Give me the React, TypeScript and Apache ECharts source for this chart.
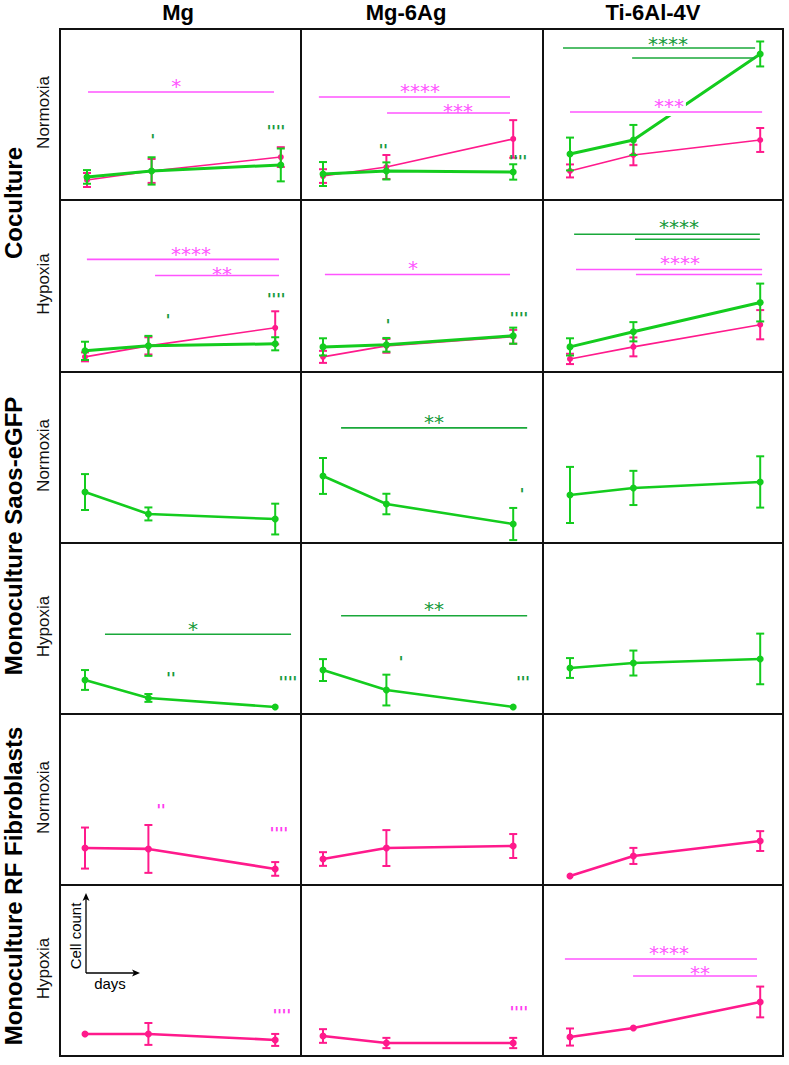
import { useEffect, useRef } from 'react';
import * as echarts from 'echarts';

// ---------- categories / labels ----------
const days = [1, 3, 7];
const columnTitles = ['Mg', 'Mg-6Ag', 'Ti-6Al-4V'];
const rowGroups = ['Coculture', 'Monoculture Saos-eGFP', 'Monoculture RF Fibroblasts'];
const conditions = ['Normoxia', 'Hypoxia'];

// ---------- values (relative cell count, arbitrary units) ----------
// Coculture normoxia
const cnMgFib = [11.7, 17.0, 25.1];
const cnMgFibErr = [4.1, 7.0, 5.8];
const cnMgSaos = [13.5, 17.0, 20.5];
const cnMgSaosErr = [4.0, 8.0, 9.6];
const cnAgFib = [14.0, 19.3, 35.7];
const cnAgFibErr = [4.0, 7.0, 11.0];
const cnAgSaos = [15.2, 17.0, 16.4];
const cnAgSaosErr = [7.0, 5.0, 4.5];
const cnTiFib = [17.0, 26.3, 35.1];
const cnTiFibErr = [3.8, 6.0, 7.0];
const cnTiSaos = [26.9, 35.1, 85.4];
const cnTiSaosErr = [9.6, 8.8, 7.3];
// Coculture hypoxia
const chMgFib = [8.8, 15.2, 25.7];
const chMgFibErr = [2.6, 5.0, 9.6];
const chMgSaos = [12.3, 15.2, 16.4];
const chMgSaosErr = [5.3, 5.8, 3.8];
const chAgFib = [8.8, 15.2, 20.5];
const chAgFibErr = [3.5, 4.0, 4.0];
const chAgSaos = [14.6, 15.8, 21.1];
const chAgSaosErr = [5.0, 4.0, 4.7];
const chTiFib = [7.6, 14.6, 27.5];
const chTiFibErr = [3.0, 5.5, 8.5];
const chTiSaos = [14.6, 23.4, 40.4];
const chTiSaosErr = [5.0, 5.6, 11.0];
// Monoculture Saos-eGFP
const snMg = [29.8, 17.0, 14.0];
const snMgErr = [10.5, 3.8, 9.0];
const snAg = [39.2, 22.8, 11.1];
const snAgErr = [10.5, 6.0, 9.4];
const snTi = [28.1, 32.2, 35.7];
const snTiErr = [16.4, 10.0, 15.0];
const shMg = [19.9, 9.4, 4.1];
const shMgErr = [5.8, 2.3, 0];
const shAg = [25.7, 14.0, 4.1];
const shAgErr = [6.4, 9.0, 0];
const shTi = [26.9, 29.8, 32.2];
const shTiErr = [5.8, 7.3, 14.8];
// Monoculture RF fibroblasts
const fnMg = [21.6, 21.1, 9.4];
const fnMgErr = [12.0, 14.0, 4.0];
const fnAg = [15.2, 21.6, 22.8];
const fnAgErr = [4.0, 10.5, 7.0];
const fnTi = [5.3, 17.0, 25.7];
const fnTiErr = [0, 4.7, 5.8];
const fhMg = [12.9, 12.9, 9.4];
const fhMgErr = [0, 6.4, 3.5];
const fhAg = [11.7, 7.6, 7.6];
const fhAgErr = [4.0, 3.0, 3.0];
const fhTi = [11.1, 16.4, 31.6];
const fhTiErr = [5.0, 0, 9.0];

// ---------- significance brackets: [fromDay, toDay, level, labelDay, labelLevel, label] ----------
type Sig = [number, number, number, number, number, string];
const sigCnMgFib: Sig[] = [[1.03, 6.79, 63.2, 3.76, 69.6, '*']];
const sigCnAgFib: Sig[] = [[0.87, 6.9, 60.2, 4.06, 66.7, '****'], [3.02, 6.9, 50.9, 5.26, 55.0, '***']];
const sigCnTiSaos: Sig[] = [[0.78, 6.84, 88.9, 4.09, 94.2, '****'], [2.96, 6.84, 83.0, 0, 0, '']];
const sigCnTiFib: Sig[] = [[1.0, 7.06, 51.5, 4.12, 57.9, '***']];
const sigChMgFib: Sig[] = [[1.06, 7.12, 65.5, 4.34, 71.3, '****'], [3.21, 7.12, 56.1, 5.32, 59.6, '**']];
const sigChAgFib: Sig[] = [[1.06, 6.9, 56.7, 3.84, 63.2, '*']];
const sigChTiSaos: Sig[] = [[1.13, 6.99, 80.1, 4.44, 87.1, '****'], [3.05, 6.99, 77.2, 0, 0, '']];
const sigChTiFib: Sig[] = [[1.19, 7.06, 59.6, 4.47, 66.1, '****'], [3.08, 7.06, 56.7, 0, 0, '']];
const sigSnAg: Sig[] = [[1.57, 7.44, 67.3, 4.5, 73.9, '**']];
const sigShMg: Sig[] = [[1.63, 7.5, 46.6, 4.41, 52.6, '*']];
const sigShAg: Sig[] = [[1.57, 7.44, 57.5, 4.5, 64.2, '**']];
const sigFhTi: Sig[] = [[0.84, 6.9, 56.7, 4.12, 63.2, '****'], [2.99, 6.9, 46.8, 5.1, 51.5, '**']];

// ---------- prime marks: [day, level, label] ----------
type Prime = [number, number, string];
const primeCnMg: Prime[] = [[3.04, 36.8, "'"], [6.85, 42.1, "''''"]];
const primeCnAg: Prime[] = [[2.9, 31.0, "''"], [7.15, 24.6, "''''"]];
const primeChMg: Prime[] = [[3.62, 32.2, "'"], [7.03, 44.4, "''''"]];
const primeChAg: Prime[] = [[3.05, 29.2, "'"], [7.18, 33.3, "''''"]];
const primeSnAg: Prime[] = [[7.28, 30.4, "'"]];
const primeShMg: Prime[] = [[3.71, 22.8, "''"], [7.4, 20.5, "''''"]];
const primeShAg: Prime[] = [[3.46, 32.2, "'"], [7.31, 20.5, "'''"]];
const primeFnMg: Prime[] = [[3.4, 45.6, "''"], [7.12, 32.2, "''''"]];
const primeFhMg: Prime[] = [[7.21, 25.7, "''''"]];
const primeFhAg: Prime[] = [[7.18, 27.5, "''''"]];

// ---------- styling / layout ----------
const PINK = '#ff1a8c';
const GREEN = '#14cc1e';
const SIG_PINK = '#ff55ff';
const SIG_GREEN = '#1aa83a';
const PRIME_GREEN = '#16993a';
const PRIME_PINK = '#ff3cf0';
const FONT = '"Liberation Sans", Arial, sans-serif';

const colEdges = [60, 301, 543, 783];
const rowEdges = [29, 200, 372, 543, 714, 885, 1056];
const day1Px = [25, 22, 27];
const pxPerDay = 31.7;

type Curve = { kind: 'saos' | 'fib'; mean: number[]; err: number[] };
type SigGroup = { kind: 'saos' | 'fib'; bars: Sig[]; mask?: boolean };
type Panel = { curves: Curve[]; sigs: SigGroup[]; primes: Prime[]; primeKind: 'saos' | 'fib' };

const panels: Panel[] = [
  { curves: [{ kind: 'fib', mean: cnMgFib, err: cnMgFibErr }, { kind: 'saos', mean: cnMgSaos, err: cnMgSaosErr }], sigs: [{ kind: 'fib', bars: sigCnMgFib }], primes: primeCnMg, primeKind: 'saos' },
  { curves: [{ kind: 'fib', mean: cnAgFib, err: cnAgFibErr }, { kind: 'saos', mean: cnAgSaos, err: cnAgSaosErr }], sigs: [{ kind: 'fib', bars: sigCnAgFib }], primes: primeCnAg, primeKind: 'saos' },
  { curves: [{ kind: 'fib', mean: cnTiFib, err: cnTiFibErr }, { kind: 'saos', mean: cnTiSaos, err: cnTiSaosErr }], sigs: [{ kind: 'saos', bars: sigCnTiSaos }, { kind: 'fib', bars: sigCnTiFib, mask: true }], primes: [], primeKind: 'saos' },
  { curves: [{ kind: 'fib', mean: chMgFib, err: chMgFibErr }, { kind: 'saos', mean: chMgSaos, err: chMgSaosErr }], sigs: [{ kind: 'fib', bars: sigChMgFib }], primes: primeChMg, primeKind: 'saos' },
  { curves: [{ kind: 'fib', mean: chAgFib, err: chAgFibErr }, { kind: 'saos', mean: chAgSaos, err: chAgSaosErr }], sigs: [{ kind: 'fib', bars: sigChAgFib }], primes: primeChAg, primeKind: 'saos' },
  { curves: [{ kind: 'fib', mean: chTiFib, err: chTiFibErr }, { kind: 'saos', mean: chTiSaos, err: chTiSaosErr }], sigs: [{ kind: 'saos', bars: sigChTiSaos }, { kind: 'fib', bars: sigChTiFib }], primes: [], primeKind: 'saos' },
  { curves: [{ kind: 'saos', mean: snMg, err: snMgErr }], sigs: [], primes: [], primeKind: 'saos' },
  { curves: [{ kind: 'saos', mean: snAg, err: snAgErr }], sigs: [{ kind: 'saos', bars: sigSnAg }], primes: primeSnAg, primeKind: 'saos' },
  { curves: [{ kind: 'saos', mean: snTi, err: snTiErr }], sigs: [], primes: [], primeKind: 'saos' },
  { curves: [{ kind: 'saos', mean: shMg, err: shMgErr }], sigs: [{ kind: 'saos', bars: sigShMg }], primes: primeShMg, primeKind: 'saos' },
  { curves: [{ kind: 'saos', mean: shAg, err: shAgErr }], sigs: [{ kind: 'saos', bars: sigShAg }], primes: primeShAg, primeKind: 'saos' },
  { curves: [{ kind: 'saos', mean: shTi, err: shTiErr }], sigs: [], primes: [], primeKind: 'saos' },
  { curves: [{ kind: 'fib', mean: fnMg, err: fnMgErr }], sigs: [], primes: primeFnMg, primeKind: 'fib' },
  { curves: [{ kind: 'fib', mean: fnAg, err: fnAgErr }], sigs: [], primes: [], primeKind: 'fib' },
  { curves: [{ kind: 'fib', mean: fnTi, err: fnTiErr }], sigs: [], primes: [], primeKind: 'fib' },
  { curves: [{ kind: 'fib', mean: fhMg, err: fhMgErr }], sigs: [], primes: primeFhMg, primeKind: 'fib' },
  { curves: [{ kind: 'fib', mean: fhAg, err: fhAgErr }], sigs: [], primes: primeFhAg, primeKind: 'fib' },
  { curves: [{ kind: 'fib', mean: fhTi, err: fhTiErr }], sigs: [{ kind: 'fib', bars: sigFhTi }], primes: [], primeKind: 'fib' },
];

function buildOption() {
  const grid: any[] = [];
  const xAxis: any[] = [];
  const yAxis: any[] = [];
  const series: any[] = [];

  panels.forEach((panel, p) => {
    const row = Math.floor(p / 3);
    const col = p % 3;
    const left = colEdges[col];
    const width = colEdges[col + 1] - colEdges[col];
    const top = rowEdges[row];
    const height = rowEdges[row + 1] - rowEdges[row];
    grid.push({ left, top, width, height, show: true, borderColor: '#111', borderWidth: 2, backgroundColor: 'transparent' });
    const x0 = p === 0 ? 27 : day1Px[col];
    const s = p === 0 ? 32.3 : pxPerDay;
    const xmin = 1 - x0 / s;
    xAxis.push({ type: 'value', gridIndex: p, min: xmin, max: xmin + width / s, show: false });
    yAxis.push({ type: 'value', gridIndex: p, min: 0, max: 100, show: false });

    const coculture = row < 2;
    panel.curves.forEach((c) => {
      const color = c.kind === 'saos' ? GREEN : PINK;
      const lw = coculture ? (c.kind === 'saos' ? 3 : 1.6) : 2.6;
      const errData = days.map((d, i) => [d, c.mean[i] - c.err[i], c.mean[i] + c.err[i]]).filter((_, i) => c.err[i] > 0);
      series.push({
        type: 'custom',
        xAxisIndex: p,
        yAxisIndex: p,
        silent: true,
        z: c.kind === 'saos' ? 4 : 2,
        encode: { x: 0, y: [1, 2] },
        data: errData,
        renderItem: (params: any, api: any) => {
          const x = api.value(0);
          const a = api.coord([x, api.value(2)]);
          const b = api.coord([x, api.value(1)]);
          const cw = 4;
          const st = { stroke: color, lineWidth: 2 };
          return {
            type: 'group',
            children: [
              { type: 'line', shape: { x1: a[0], y1: a[1], x2: b[0], y2: b[1] }, style: st },
              { type: 'line', shape: { x1: a[0] - cw, y1: a[1], x2: a[0] + cw, y2: a[1] }, style: st },
              { type: 'line', shape: { x1: b[0] - cw, y1: b[1], x2: b[0] + cw, y2: b[1] }, style: st },
            ],
          };
        },
      });
      series.push({
        type: 'line',
        xAxisIndex: p,
        yAxisIndex: p,
        silent: true,
        z: c.kind === 'saos' ? 5 : 3,
        data: days.map((d, i) => [d, c.mean[i]]),
        symbol: 'circle',
        symbolSize: coculture && c.kind === 'fib' ? 6 : 7,
        showSymbol: true,
        lineStyle: { color, width: lw },
        itemStyle: { color },
      });
    });

    panel.sigs.forEach((g) => {
      const lineColor = g.kind === 'saos' ? SIG_GREEN : SIG_PINK;
      const textColor = g.kind === 'saos' ? PRIME_GREEN : SIG_PINK;
      series.push({
        type: 'custom',
        xAxisIndex: p,
        yAxisIndex: p,
        silent: true,
        z: 8,
        encode: { x: [0, 1], y: 2 },
        data: g.bars.map((b) => [b[0], b[1], b[2], b[3], b[4]]),
        renderItem: (params: any, api: any) => {
          const bar = g.bars[params.dataIndex];
          const a = api.coord([bar[0], bar[2]]);
          const b = api.coord([bar[1], bar[2]]);
          const children: any[] = [];
          if (bar[5]) {
            const t = api.coord([bar[3], bar[4]]);
            children.push({
              type: 'text',
              x: t[0],
              y: t[1] + 5,
              style: {
                text: bar[5],
                fill: textColor,
                font: '20px "DejaVu Sans", sans-serif',
                align: 'center',
                verticalAlign: 'middle',
                backgroundColor: g.mask ? '#fff' : undefined,
                padding: g.mask ? [0, 2, 0, 2] : 0,
              },
            });
          }
          children.push({ type: 'line', shape: { x1: a[0], y1: a[1], x2: b[0], y2: b[1] }, style: { stroke: lineColor, lineWidth: 1.6 } });
          return { type: 'group', children };
        },
      });
    });

    if (panel.primes.length) {
      const pc = panel.primeKind === 'saos' ? PRIME_GREEN : PRIME_PINK;
      series.push({
        type: 'custom',
        xAxisIndex: p,
        yAxisIndex: p,
        silent: true,
        z: 9,
        encode: { x: 0, y: 1 },
        data: panel.primes.map((q) => [q[0], q[1]]),
        renderItem: (params: any, api: any) => {
          const q = panel.primes[params.dataIndex];
          const t = api.coord([q[0], q[1]]);
          return {
            type: 'text',
            x: t[0],
            y: t[1] + 4,
            style: {
              text: q[2],
              fill: pc,
              font: 'bold 15px "DejaVu Sans", sans-serif',
              align: 'center',
              verticalAlign: 'middle',
            },
          };
        },
      });
    }
  });

  const titleX = [178, 406, 653];
  const groupY = [203, 536, 886];
  const graphic: any[] = [];
  columnTitles.forEach((t, i) => {
    graphic.push({ type: 'text', x: titleX[i], y: 12, style: { text: t, font: `bold 22px ${FONT}`, fill: '#000', align: 'center', verticalAlign: 'middle' } });
  });
  rowGroups.forEach((t, i) => {
    graphic.push({ type: 'text', x: 13.5, y: groupY[i], rotation: Math.PI / 2, style: { text: t, font: `bold 24px ${FONT}`, lineHeight: 24, fill: '#000', align: 'center', verticalAlign: 'middle' } });
  });
  for (let r = 0; r < 6; r++) {
    const cy = (rowEdges[r] + rowEdges[r + 1]) / 2 - 2;
    graphic.push({ type: 'text', x: 43, y: cy, rotation: Math.PI / 2, style: { text: conditions[r % 2], font: `17px ${FONT}`, fill: '#111', align: 'center', verticalAlign: 'middle' } });
  }
  // axis hint legend (Cell count vs days)
  graphic.push({ type: 'line', shape: { x1: 86, y1: 973, x2: 86, y2: 898 }, style: { stroke: '#000', lineWidth: 1.3 } });
  graphic.push({ type: 'polygon', shape: { points: [[86, 893], [82.5, 901], [86, 899], [89.5, 901]] }, style: { fill: '#000' } });
  graphic.push({ type: 'line', shape: { x1: 86, y1: 973, x2: 135, y2: 973 }, style: { stroke: '#000', lineWidth: 1.3 } });
  graphic.push({ type: 'polygon', shape: { points: [[140, 973], [132, 969.5], [134, 973], [132, 976.5]] }, style: { fill: '#000' } });
  graphic.push({ type: 'text', x: 75, y: 936, rotation: Math.PI / 2, style: { text: 'Cell count', font: `15px ${FONT}`, fill: '#000', align: 'center', verticalAlign: 'middle' } });
  graphic.push({ type: 'text', x: 110, y: 983, style: { text: 'days', font: `15px ${FONT}`, fill: '#000', align: 'center', verticalAlign: 'middle' } });

  return { animation: false, backgroundColor: '#fff', grid, xAxis, yAxis, series, graphic };
}

export default function App() {
  const ref = useRef<HTMLDivElement>(null);
  useEffect(() => {
    if (!ref.current) return;
    const chart = echarts.init(ref.current, null, { renderer: 'svg' });
    chart.setOption(buildOption() as any);
    return () => chart.dispose();
  }, []);
  return <div ref={ref} style={{ position: 'absolute', left: 0, top: 0, width: 789, height: 1065, background: '#fff' }} />;
}
